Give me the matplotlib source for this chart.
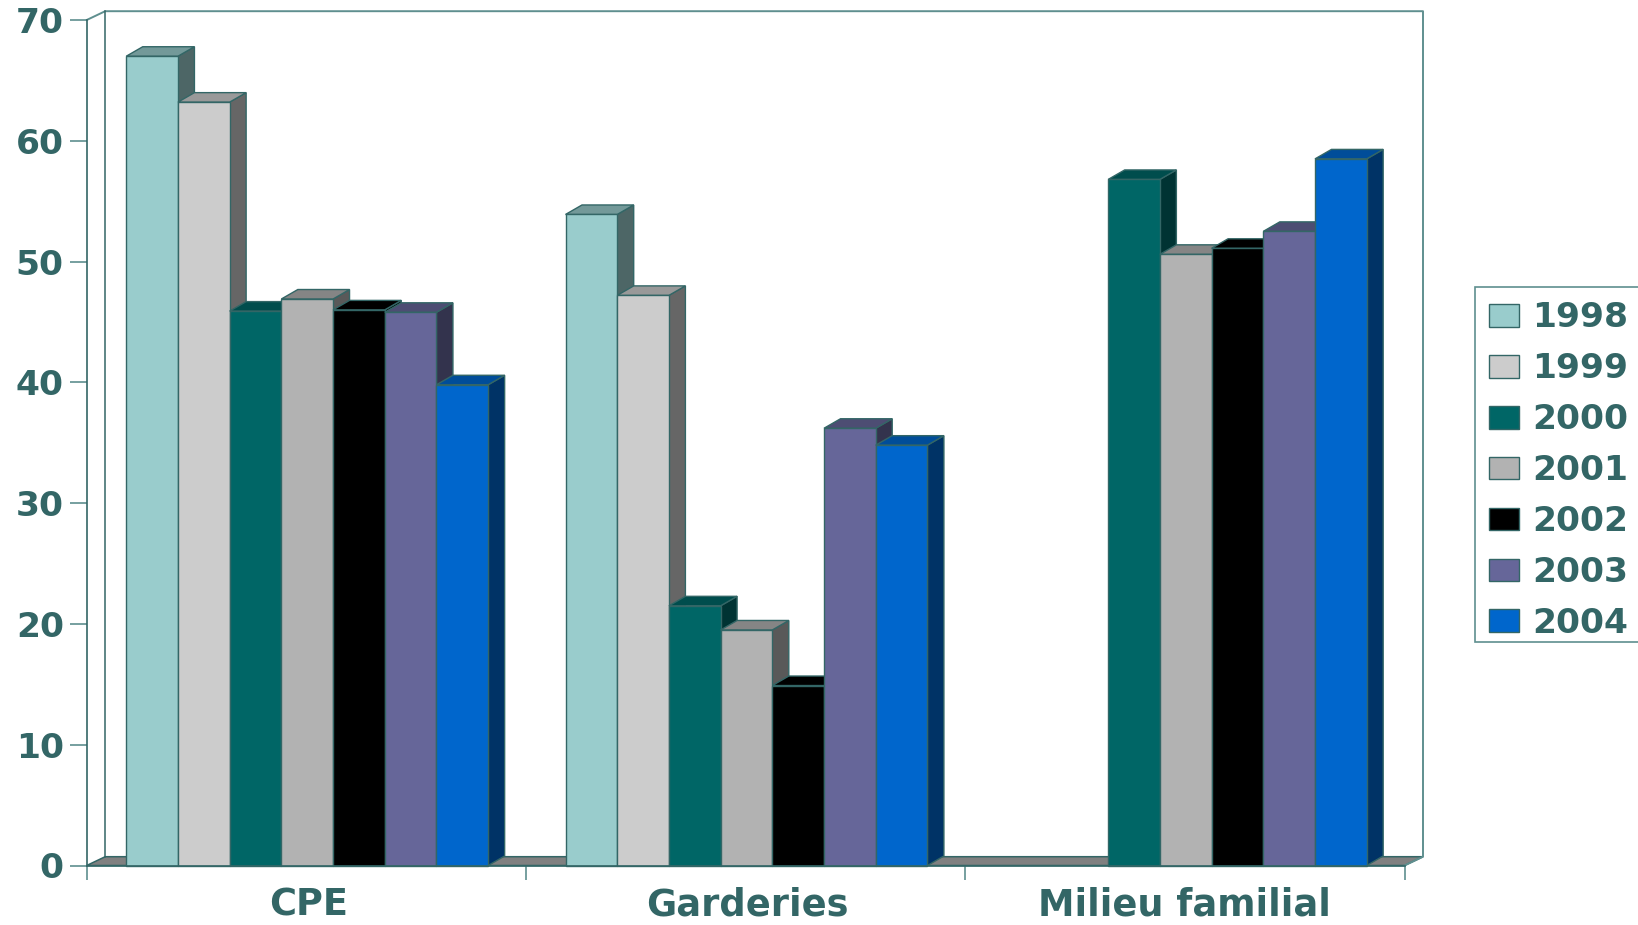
import matplotlib
matplotlib.use('Agg')
import matplotlib.pyplot as plt
from matplotlib.patches import Polygon, Patch, Rectangle
from matplotlib.colors import to_rgb

# Data
categories = ['CPE', 'Garderies', 'Milieu familial']
years = ['1998', '1999', '2000', '2001', '2002', '2003', '2004']
values_1998 = [67.0, 53.9, 0]
values_1999 = [63.2, 47.2, 0]
values_2000 = [45.9, 21.5, 56.8]
values_2001 = [46.9, 19.5, 50.6]
values_2002 = [46.0, 14.9, 51.1]
values_2003 = [45.8, 36.2, 52.5]
values_2004 = [39.8, 34.8, 58.5]
series = [values_1998, values_1999, values_2000, values_2001,
          values_2002, values_2003, values_2004]
colors = ['#99CCCC', '#CCCCCC', '#006666', '#B2B2B2', '#000000', '#666699', '#0066CC']

INK = '#336666'
WALL = '#5F8F8F'
FONT = 24.8
CAT_FONT = 26.5

W, H = 1638, 925
X0, X1 = 86.7, 1404.5
Y0, Y1 = 865.5, 20

# Depth of the fake 3D effect, in data units
px_x = 3 / (X1 - X0)
px_y = 70 / (Y0 - Y1)
bar_dx, bar_dy = 16.5 * px_x, 9.5 * px_y
wall_dx, wall_dy = 18.5 * px_x, 8.8 * px_y

GROUP_START = 0.0900
BAR_W = 0.1177


def shade(color, factor):
    return tuple(c * factor for c in to_rgb(color))


plt.rcParams['font.family'] = 'DejaVu Sans'
plt.rcParams['font.weight'] = 'bold'

fig = plt.figure(figsize=(W / 100, H / 100), dpi=100)
ax = fig.add_axes([X0 / W, 1 - Y0 / H, (X1 - X0) / W, (Y0 - Y1) / H])
ax.set_xlim(0, 3)
ax.set_ylim(0, 70)

# Back walls and floor
ax.add_patch(Polygon([(0, 0), (wall_dx, wall_dy), (3 + wall_dx, wall_dy), (3, 0)],
                     closed=True, facecolor='#808080', edgecolor=INK, lw=1.1,
                     clip_on=False, zorder=1))
ax.plot([0, wall_dx, 3 + wall_dx, 3 + wall_dx, 3],
        [70, 70 + wall_dy, 70 + wall_dy, wall_dy, 0],
        color=WALL, lw=1.4, clip_on=False, zorder=1)
ax.plot([wall_dx, wall_dx], [wall_dy, 70 + wall_dy], color=INK, lw=1.1,
        clip_on=False, zorder=1)

# Bars, left to right so each front covers the side of the previous one
z = 2
for c in range(len(categories)):
    for i, vals in enumerate(series):
        v = vals[c]
        if v == 0:
            continue
        left = c + GROUP_START + i * BAR_W
        right = left + BAR_W
        ax.add_patch(Polygon([(right, 0), (right + bar_dx, bar_dy),
                              (right + bar_dx, v + bar_dy), (right, v)],
                             closed=True, facecolor=shade(colors[i], 0.5),
                             edgecolor=INK, lw=1.0, clip_on=False, zorder=z))
        ax.add_patch(Polygon([(left, v), (left + bar_dx, v + bar_dy),
                              (right + bar_dx, v + bar_dy), (right, v)],
                             closed=True, facecolor=shade(colors[i], 0.75),
                             edgecolor=INK, lw=1.0, clip_on=False, zorder=z))
        ax.bar(left, v, BAR_W, align='edge', color=colors[i], edgecolor=INK,
               linewidth=1.0, zorder=z + 1, clip_on=False)
        z += 2

# Axes
for side in ['top', 'right']:
    ax.spines[side].set_visible(False)
for side in ['left', 'bottom']:
    ax.spines[side].set_color(INK)
    ax.spines[side].set_linewidth(1.2)
    ax.spines[side].set_zorder(z + 1)

ax.set_yticks(range(0, 71, 10))
ax.tick_params(axis='y', length=12.2, width=1.2, color=WALL, pad=4.3,
               labelsize=FONT, labelcolor=INK)
ax.set_xticks([0, 1, 2, 3])
ax.set_xticklabels([])
ax.tick_params(axis='x', which='major', length=10, width=1.2, color=WALL)
ax.set_xticks([0.505, 1.505, 2.5], minor=True)
ax.set_xticklabels(categories, minor=True)
ax.tick_params(axis='x', which='minor', length=0, pad=15, labelsize=CAT_FONT, labelcolor=INK)

# Legend box runs off the right edge of the figure, as in the original
fig.add_artist(Rectangle((1475 / W, 1 - 642 / H), 200 / W, 355 / H,
                         transform=fig.transFigure, facecolor='white',
                         edgecolor=WALL, linewidth=1.2))
handles = [Patch(facecolor=col, edgecolor=INK, linewidth=1.0) for col in colors]
leg = fig.legend(handles, years, loc='upper left',
                 bbox_to_anchor=(1475 / W, 1 - 287 / H), fontsize=FONT,
                 labelcolor=INK, frameon=False, handlelength=0.85, handleheight=0.64,
                 handletextpad=0.38, borderpad=0.42, labelspacing=0.52,
                 borderaxespad=0)

fig.savefig('out.png', dpi=100)
